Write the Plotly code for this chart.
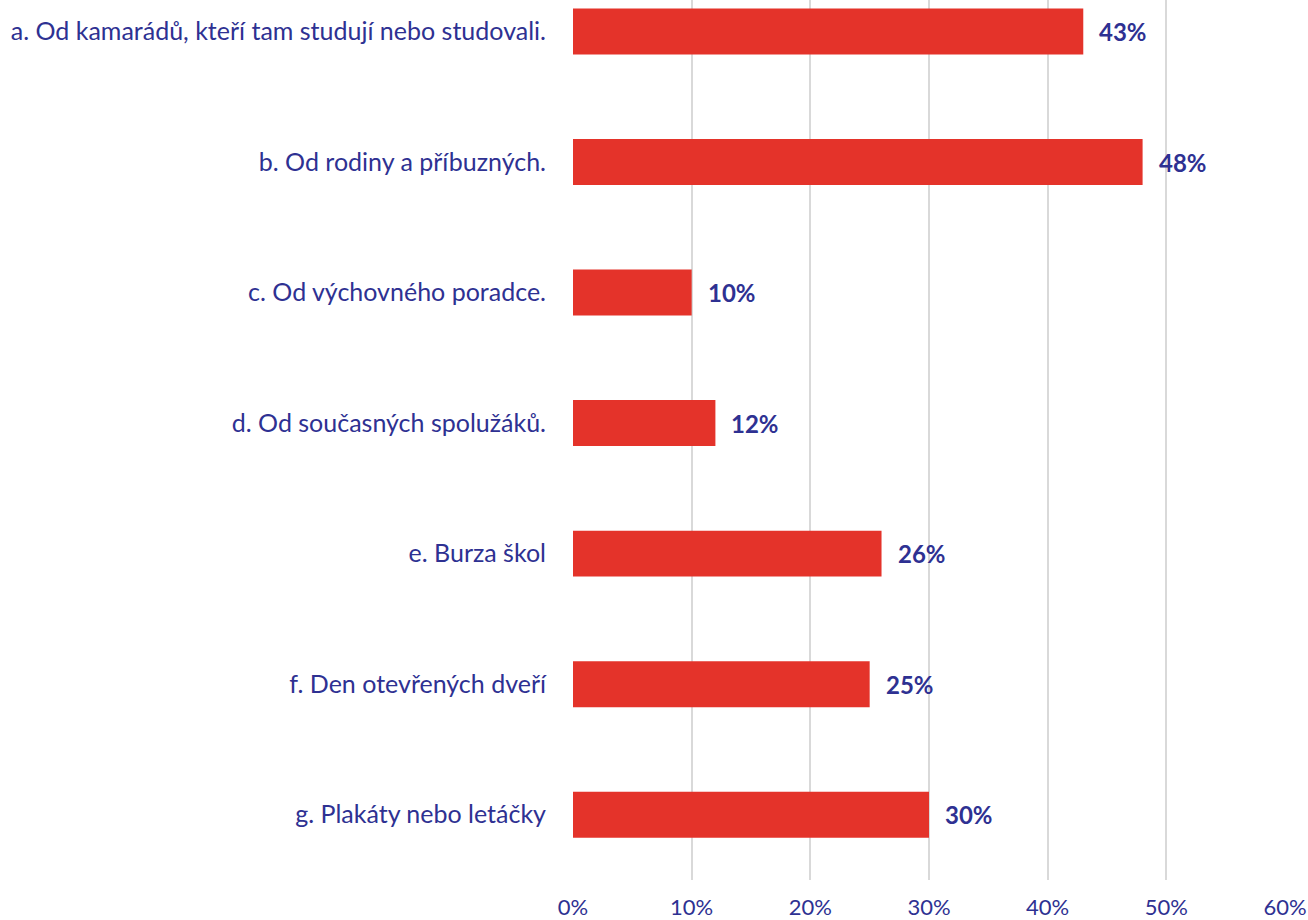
import plotly.graph_objects as go

categories = [
    "a. Od kamarádů, kteří tam studují nebo studovali.",
    "b. Od rodiny a příbuzných.",
    "c. Od výchovného poradce.",
    "d. Od současných spolužáků.",
    "e. Burza škol",
    "f. Den otevřených dveří",
    "g. Plakáty nebo letáčky",
]
values = [0.43, 0.48, 0.10, 0.12, 0.26, 0.25, 0.30]
value_labels = ["43%", "48%", "10%", "12%", "26%", "25%", "30%"]
x_ticks = [0, 0.1, 0.2, 0.3, 0.4, 0.5, 0.6]
x_tick_labels = ["0%", "10%", "20%", "30%", "40%", "50%", "60%"]

NAVY = "#2E3192"
RED = "#E4332A"
FONT = "Lato"

fig = go.Figure()
fig.add_trace(go.Bar(
    y=categories,
    x=values,
    orientation="h",
    marker=dict(color=RED, line=dict(width=0)),
    width=0.352,
    hoverinfo="skip",
))

for c, v, t in zip(categories, values, value_labels):
    fig.add_annotation(
        x=v, y=c, text="<b>" + t + "</b>", showarrow=False,
        xanchor="left", yanchor="middle", xshift=14,
        font=dict(family=FONT, size=24, color=NAVY),
    )

fig.update_layout(
    width=1308, height=920,
    margin=dict(l=573, r=23, t=0, b=40),
    plot_bgcolor="white", paper_bgcolor="white",
    showlegend=False,
    font=dict(family=FONT, size=20, color=NAVY),
)
fig.update_xaxes(
    range=[0, 0.6],
    tickvals=x_ticks, ticktext=x_tick_labels,
    showgrid=True, gridcolor="#D9D9D9", gridwidth=2,
    zeroline=False, showline=False,
    ticks="", ticklabelstandoff=12, automargin=False,
    tickfont=dict(family=FONT, size=22, color=NAVY),
)
fig.update_yaxes(
    categoryorder="array", categoryarray=categories,
    range=[6.5, -0.241],
    showgrid=False, zeroline=False, showline=False,
    ticks="", ticklabelstandoff=26, automargin=False,
    tickfont=dict(family=FONT, size=25, color=NAVY),
)

fig.write_html(
    "out.html",
    config={"displayModeBar": False},
    post_script="document.body.style.margin='0';document.body.style.overflow='hidden';",
)
